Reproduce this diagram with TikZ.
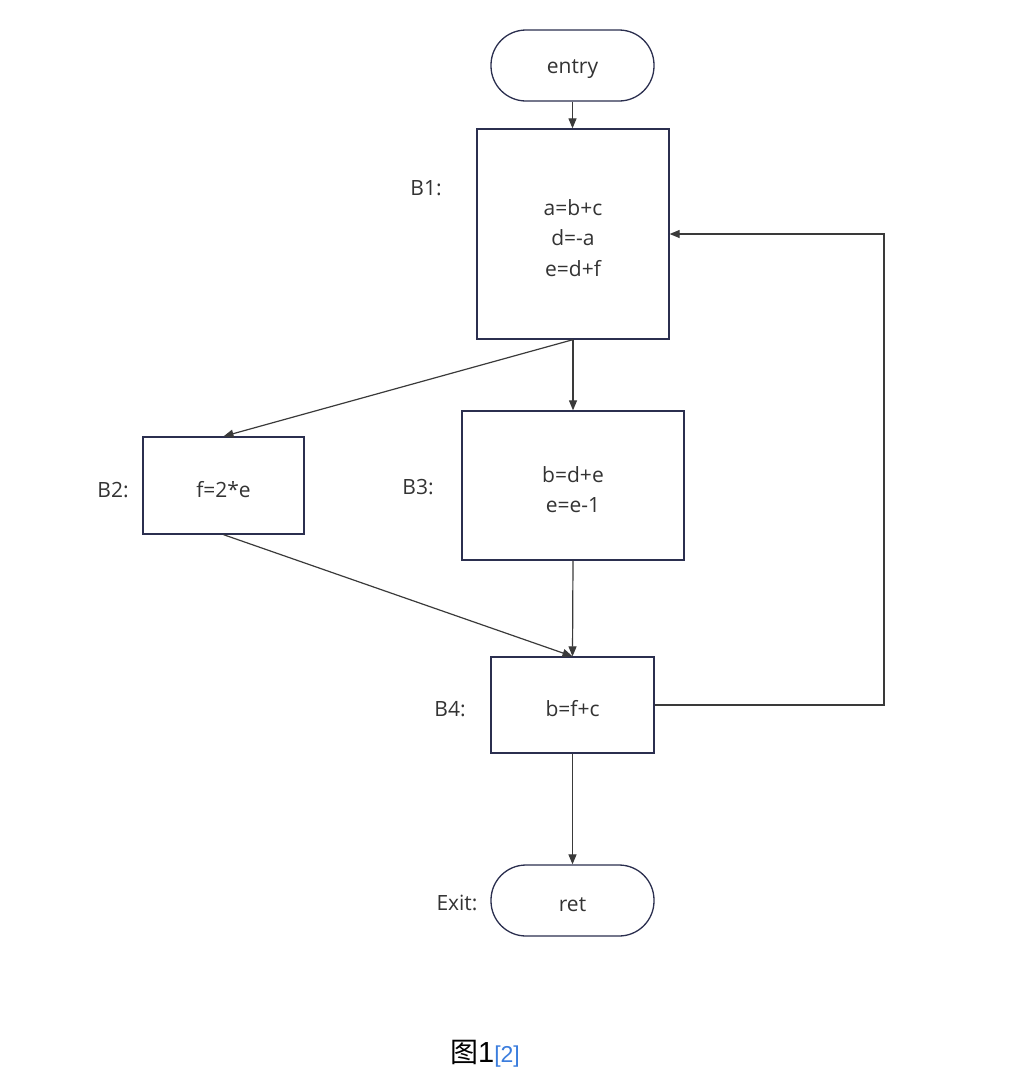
\documentclass[tikz,border=0pt]{standalone}
\usepackage{fontspec}
\setmainfont{Open Sans}
\newfontfamily\cjk{Noto Sans CJK SC}
\newfontfamily\capfont{Liberation Sans}
\usetikzlibrary{arrows.meta}
\definecolor{boxc}{HTML}{2B2F4F}
\definecolor{linec}{HTML}{3A3A3A}
\definecolor{txtc}{HTML}{333333}
\definecolor{linkc}{HTML}{3B7DDD}
\begin{document}
\begin{tikzpicture}[x=1pt,y=-1pt,
  every node/.style={font=\fontsize{21}{30.5}\selectfont, text=txtc},
  blk/.style={draw=boxc, line width=1.3pt, fill=white, inner sep=0pt, align=center},
  term/.style={blk, rounded corners=35pt},
  inside/.style={yshift=-4pt, align=center, inner sep=0pt},
  lbl/.style={anchor=base},
  conn/.style={draw=linec, line width=1.2pt, -{Triangle[length=10pt,width=8pt]}},
]
\useasboundingbox (0,0) rectangle (1018,1080);
\node[term, minimum width=163pt, minimum height=71pt,
  label={[inside]center:entry}] (entry) at (572.5,65.5) {};
\node[blk, minimum width=192pt, minimum height=210pt,
  label={[inside]center:{a=b+c\\d=-a\\e=d+f}}] (b1) at (573,234) {};
\node[blk, minimum width=161pt, minimum height=97pt,
  label={[inside]center:{f=2*e}}] (b2) at (223.5,485.5) {};
\node[blk, minimum width=222pt, minimum height=149pt,
  label={[inside]center:{b=d+e\\e=e-1}}] (b3) at (573,485.5) {};
\node[blk, minimum width=163pt, minimum height=96pt,
  label={[inside]center:{b=f+c}}] (b4) at (572.5,705) {};
\node[term, minimum width=163pt, minimum height=71pt,
  label={[inside]center:ret}] (exit) at (572.5,900.5) {};

\node[lbl] (l1) at (426,195) {B1:};
\node[lbl] (l2) at (113,497) {B2:};
\node[lbl] (l3) at (418,494) {B3:};
\node[lbl] (l4) at (450,716) {B4:};
\node[lbl] (l5) at (457,910) {Exit:};

\coordinate (rt) at (884,705);
\draw[conn] (entry.south) -- (entry.south |- b1.north);
\draw[conn] (b1.south) -- (b2.north);
\draw[conn] (b1.south) -- (b1.south |- b3.north);
\draw[conn] (b2.south) -- (b4.north);
\draw[conn] (b3.south) -- (b4.north);
\draw[conn] (b4.east) -- (b4.east -| rt) -- (b1.east -| rt) -- (b1.east);
\draw[conn] (b4.south) -- (exit.north);

\node[anchor=base, text=black] (cap) at (485,1062) {{\cjk\fontsize{28}{30}\selectfont 图}{\capfont\fontsize{29}{30}\selectfont 1}{\capfont\color{linkc}\fontsize{23}{30}\selectfont[2]}};
\end{tikzpicture}
\end{document}
